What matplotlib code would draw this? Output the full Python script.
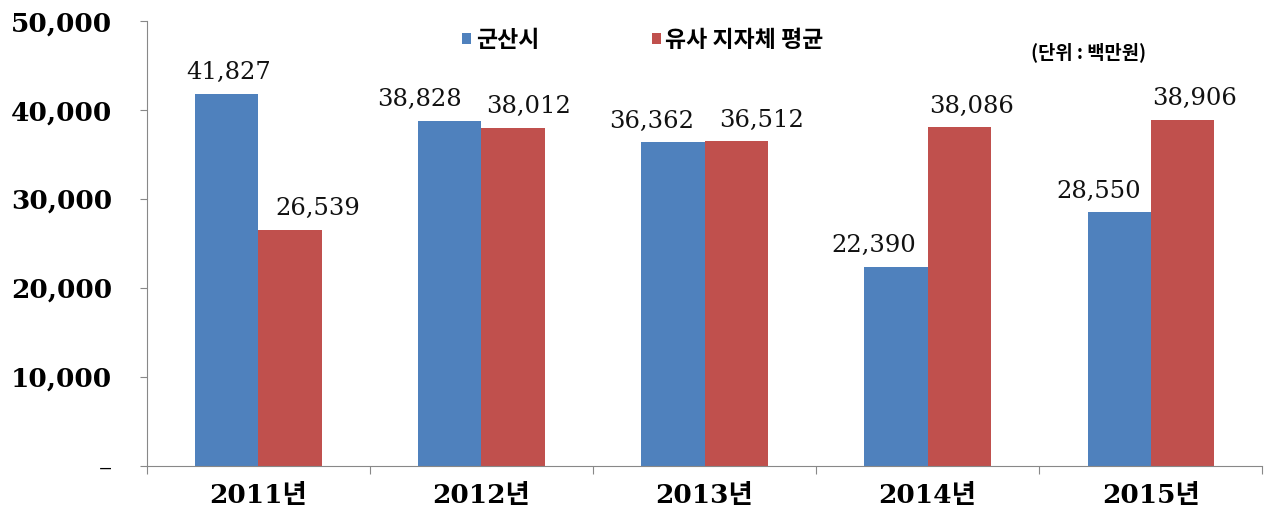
import numpy as np
import matplotlib.pyplot as plt
from matplotlib.ticker import FixedLocator

years = ["2011년", "2012년", "2013년", "2014년", "2015년"]
gunsan = [41827, 38828, 36362, 22390, 28550]
similar_avg = [26539, 38012, 36512, 38086, 38906]
series_names = ["군산시", "유사 지자체 평균"]
unit_text = "(단위 : 백만원)"
y_ticks = [0, 10000, 20000, 30000, 40000, 50000]

# manual label nudges (pixels), like the hand-placed labels in the original
blue_dx = [2, -30, -21, -22, -20]
red_dx = [28, 16, 25, 12, 12]

BLUE = "#4F81BD"
RED = "#C0504D"
serif_kr = ["DejaVu Serif", "Noto Sans CJK KR"]

fig = plt.figure(figsize=(12.66, 5.16), dpi=100)
ax = fig.add_axes([0.116, 0.097, 0.881, 0.862])

x = np.arange(len(years))
w = 0.283
b1 = ax.bar(x - w / 2, gunsan, w, color=BLUE, label=series_names[0])
b2 = ax.bar(x + w / 2, similar_avg, w, color=RED, label=series_names[1])

for bars, vals, dxs in [(b1, gunsan, blue_dx), (b2, similar_avg, red_dx)]:
    for rect, v, dx in zip(bars, vals, dxs):
        ax.annotate(f"{v:,}",
                    (rect.get_x() + rect.get_width() / 2, v),
                    xytext=(dx, 21), textcoords="offset pixels",
                    ha="center", va="center",
                    family="DejaVu Serif", fontsize=17.5, color="#111111")

ax.set_xlim(-0.5, len(years) - 0.5)
ax.set_ylim(0, 50000)

ax.set_yticks(y_ticks)
ylabels = ax.set_yticklabels(["–"] + [f"{t:,}" for t in y_ticks[1:]],
                             family="DejaVu Serif", fontweight="bold", fontsize=19)
ylabels[0].set_fontweight("normal")
ax.tick_params(axis="y", length=5, width=0.8, color="#888888", pad=20)

ax.set_xticks(x)
ax.set_xticklabels(years, family=serif_kr, fontweight="bold", fontsize=19)
ax.xaxis.set_minor_locator(FixedLocator(np.arange(-0.5, len(years), 1.0)))
ax.tick_params(axis="x", which="major", length=0, pad=12)
ax.tick_params(axis="x", which="minor", length=6, width=0.8, color="#888888")

for s in ["top", "right"]:
    ax.spines[s].set_visible(False)
for s in ["left", "bottom"]:
    ax.spines[s].set_color("#888888")
    ax.spines[s].set_linewidth(0.8)

leg = fig.legend(handles=[b1, b2], loc="center left",
                 bbox_to_anchor=(0.365, 0.922), ncol=2, frameon=False,
                 prop={"family": "Noto Sans CJK KR", "weight": "bold", "size": 16.5},
                 borderpad=0, borderaxespad=0,
                 handlelength=0.4, handleheight=0.4, handletextpad=0.2,
                 columnspacing=4.9)

fig.text(0.814, 0.899, unit_text, family="Noto Sans CJK KR",
         fontweight="bold", fontsize=13.5, ha="left", va="center")

fig.savefig("out.png", dpi=100)
